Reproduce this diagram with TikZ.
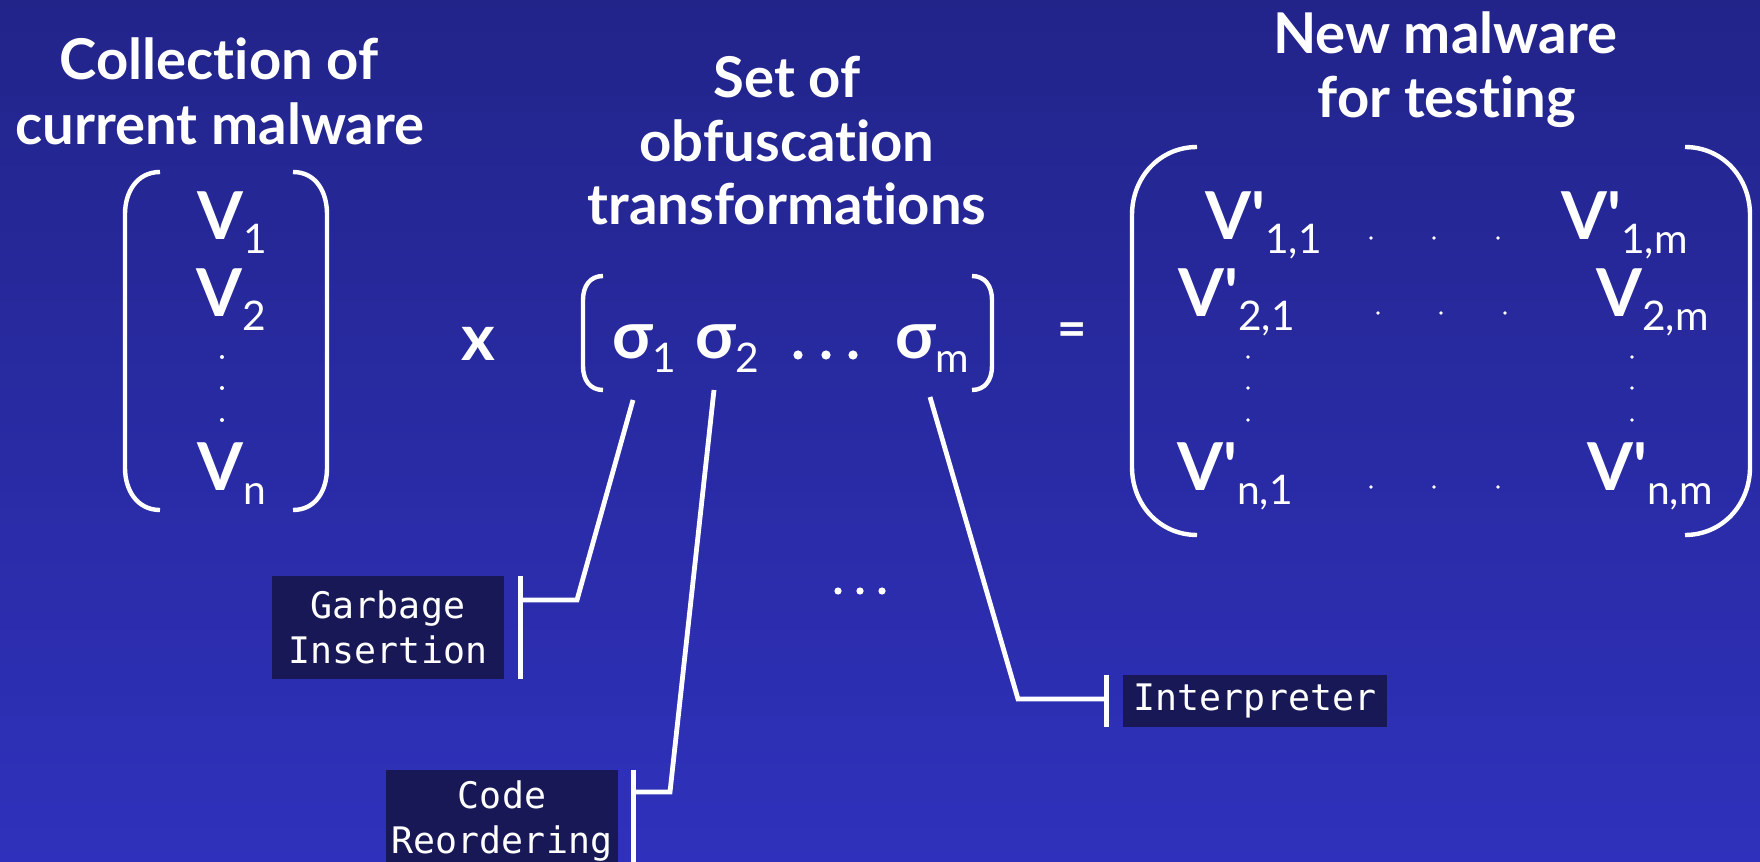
\documentclass[tikz,border=0pt]{standalone}
\usepackage{fontspec}
\setmainfont{Lato}[Ligatures=NoCommon]
\newfontfamily\latofont{Lato}[Ligatures=NoCommon]
\newfontfamily\monofont{DejaVu Sans Mono}
\definecolor{bgtop}{RGB}{34,36,138}
\definecolor{bgbot}{RGB}{47,49,188}
\definecolor{boxfill}{RGB}{24,24,86}
\newcommand\bigsz{\fontsize{47}{50}\selectfont}
\newcommand\subsz{\fontsize{29}{30}\selectfont}
\newcommand\ent[2]{{\latofont\bfseries\bigsz #1}\raisebox{-3.5mm}{\latofont\subsz #2}}
\begin{document}
\begin{tikzpicture}[x=0.25mm,y=-0.25mm,
  title/.style={font=\latofont\bfseries\fontsize{40}{46}\selectfont, text=white, anchor=base, inner sep=0pt},
  entry/.style={text=white, anchor=base west, inner sep=0pt},
  paren/.style={draw=white, line width=1.1mm},
  conn/.style={draw=white, line width=1.2mm},
  lbl/.style={fill=boxfill, text=white, font=\monofont\fontsize{26}{32}\selectfont, align=center, inner sep=0pt},
  sym/.style={text=white, inner sep=0pt, font=\latofont\bfseries\fontsize{46}{48}\selectfont}
]
\shade[top color=bgtop, bottom color=bgbot] (0,0) rectangle (1760,862);
\useasboundingbox (0,0) rectangle (1760,862);

% titles
\node[title] (c1) at (219,80) {Collection of};
\node[title] (c2) at (220,145) {current malware};
\node[title] (s1t) at (787,98) {Set of};
\node[title] (s2t) at (787,162) {obfuscation};
\node[title] (s3t) at (787,225) {transformations};
\node[title] (n1) at (1445,54) {New malware};
\node[title] (n2) at (1447,118) {for testing};

% malware vector
\draw[paren] (160,172) .. controls (137,172) and (125,192) .. (125,214) -- (125,468) .. controls (125,490) and (137,510) .. (160,510);
\draw[paren] (293,172) .. controls (316,172) and (327,192) .. (327,214) -- (327,468) .. controls (327,490) and (316,510) .. (293,510);
\node[entry] (v1) at (197,240) {\ent{V}{1}};
\node[entry] (v2) at (196,317) {\ent{V}{2}};
\node[entry] (vn) at (197,490) {\ent{V}{n}};
\foreach \yy in {357,388,420} \fill[white] (222,\yy) circle[radius=0.5mm];

% times
\node[sym] (times) at (478,344) {x};

% sigma vector
\draw[paren] (603,276) .. controls (590,276) and (583,286) .. (583,300) -- (583,366) .. controls (583,380) and (590,390) .. (603,390);
\draw[paren] (972,276) .. controls (985,276) and (992,286) .. (992,300) -- (992,366) .. controls (992,380) and (985,390) .. (972,390);
\node[entry] (sig1) at (612,358) {\ent{σ}{1}};
\node[entry] (sig2) at (695,358) {\ent{σ}{2}};
\node[entry] (sigm) at (895,358) {\ent{σ}{m}};
\foreach \xx in {798,826,853} \fill[white] (\xx,355) circle[radius=1.15mm];

% equals
\node[sym, font=\latofont\bfseries\fontsize{36}{40}\selectfont] (eq) at (1072,335) {=};

% result matrix
\draw[paren] (1197,147) .. controls (1160,147) and (1132,177) .. (1132,215) -- (1132,467) .. controls (1132,505) and (1160,535) .. (1197,535);
\draw[paren] (1685,147) .. controls (1722,147) and (1750,177) .. (1750,215) -- (1750,467) .. controls (1750,505) and (1722,535) .. (1685,535);
\node[entry] (m11) at (1205,240) {\ent{V'}{1,1}};
\node[entry] (m21) at (1178,317) {\ent{V'}{2,1}};
\node[entry] (mn1) at (1177,490) {\ent{V'}{n,1}};
\node[entry] (m1m) at (1561,240) {\ent{V'}{1,m}};
\node[entry] (m2m) at (1596,317) {\ent{V}{2,m}};
\node[entry] (mnm) at (1587,490) {\ent{V'}{n,m}};
\foreach \xx in {1371,1434,1498} {\fill[white] (\xx,238) circle[radius=0.45mm]; \fill[white] (\xx,487) circle[radius=0.45mm];}
\foreach \xx in {1378,1441,1505} \fill[white] (\xx,313) circle[radius=0.45mm];
\foreach \yy in {357,388,420} {\fill[white] (1248,\yy) circle[radius=0.45mm]; \fill[white] (1632,\yy) circle[radius=0.45mm];}

% labels
\node[lbl, minimum width=58mm, minimum height=25.75mm] (garb) at (388,627.5) {Garbage\\Insertion};
\node[lbl, minimum width=58mm, minimum height=25.5mm] (code) at (502,821) {Code\\Reordering};
\node[lbl, minimum width=66mm, minimum height=13mm] (interp) at (1255,701) {Interpreter};
\foreach \xx in {838,860,882} \fill[white] (\xx,591) circle[radius=0.9mm];

% connector end points
\coordinate (e1) at (633,400);
\coordinate (e2) at (714,390);
\coordinate (em) at (930,397);
\coordinate (k1) at (577,600);
\coordinate (t1) at (520,600);
\coordinate (k2) at (670,792);
\coordinate (t2) at (633,792);
\coordinate (k3) at (1018,699);
\coordinate (t3) at (1107,699);

% tee bars
\draw[conn] ([xshift=4mm]garb.north east) -- ([xshift=4mm]garb.south east);
\draw[conn] ([xshift=3.75mm]code.north east) -- ([xshift=3.75mm]code.south east);
\draw[conn] ([xshift=-4mm]interp.north west) -- ([xshift=-4mm]interp.south west);

% connectors
\draw[conn] (e1) -- (k1) -- (t1);
\draw[conn] (e2) -- (k2) -- (t2);
\draw[conn] (em) -- (k3) -- (t3);
\end{tikzpicture}
\end{document}
